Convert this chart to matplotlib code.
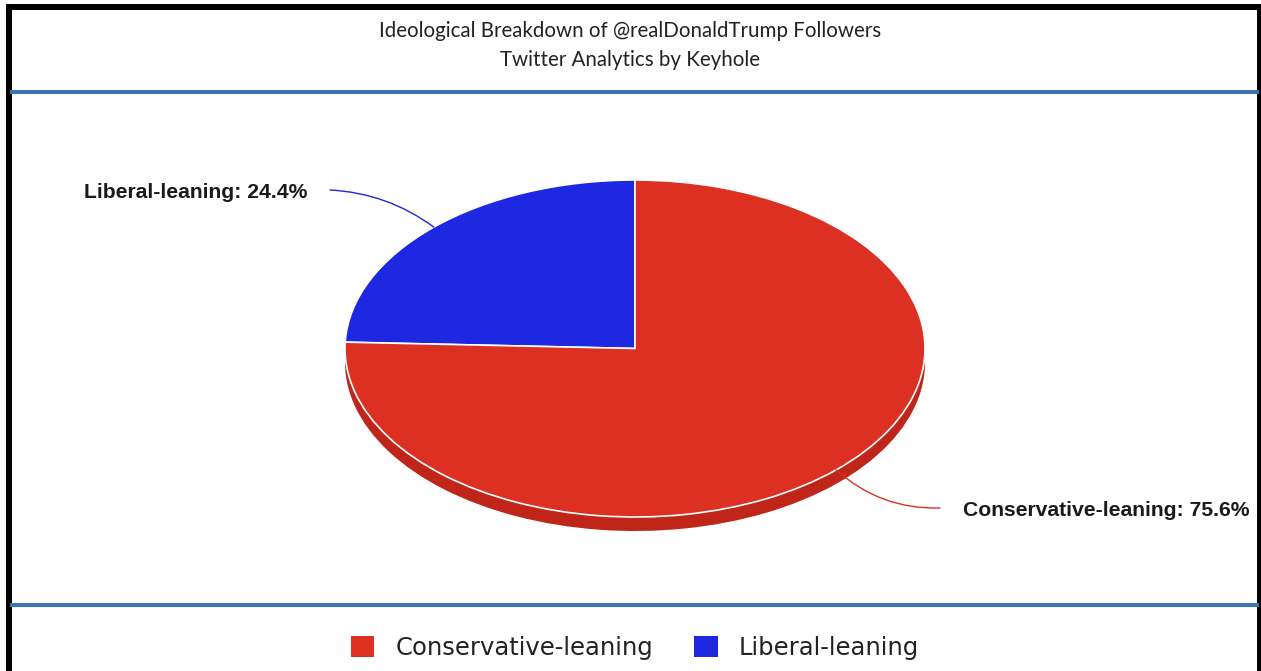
import numpy as np
import matplotlib
matplotlib.use("Agg")
import matplotlib.pyplot as plt
from matplotlib.patches import Rectangle
from matplotlib.lines import Line2D

# ---- data ----
categories = ["Liberal-leaning", "Conservative-leaning"]
values = [24.4, 75.6]
colors = ["#1E28E0", "#DC3122"]
side_colors = ["#1620B8", "#BF2519"]
title_lines = ["Ideological Breakdown of @realDonaldTrump Followers",
               "Twitter Analytics by Keyhole"]
legend_order = ["Conservative-leaning", "Liberal-leaning"]

W, H = 1261, 671
fig = plt.figure(figsize=(W / 100, H / 100), dpi=100)
fig.patch.set_facecolor("white")

def fx(px):
    return px / W

def fy(py):
    return 1 - py / H

# frame
fig.add_artist(Rectangle((fx(6), fy(10)), fx(1261) - fx(6), fy(4) - fy(10),
                         transform=fig.transFigure, color="black", lw=0))
fig.add_artist(Rectangle((fx(6), 0), fx(12) - fx(6), fy(4),
                         transform=fig.transFigure, color="black", lw=0))
fig.add_artist(Rectangle((fx(1257), 0), fx(1261) - fx(1257), fy(4),
                         transform=fig.transFigure, color="black", lw=0))

# separator lines
for yy in (92, 605):
    fig.add_artist(Line2D([fx(12), fx(1257)], [fy(yy), fy(yy)],
                          transform=fig.transFigure, color="#3B74B6", lw=2.9))

# titles
fig.text(0.5, fy(31), title_lines[0], ha="center", va="center",
         fontsize=14.8, family="Lato", color="#222222")
fig.text(0.5, fy(60), title_lines[1], ha="center", va="center",
         fontsize=14.8, family="Lato", color="#222222")

# pie axes: ellipse bounding box (345,180)-(925,517)
left, top, right, bottom = 345, 180, 925, 517
ax = fig.add_axes([fx(left), fy(bottom), fx(right) - fx(left), fy(top) - fy(bottom)])
ry_px = (bottom - top) / 2
depth = 14 / ry_px

# side (depth) layer
ax.pie(values, colors=side_colors, startangle=90, counterclock=True,
       center=(0, -depth), radius=1,
       wedgeprops=dict(edgecolor="none", linewidth=0))
wedges, _ = ax.pie(values, colors=colors, startangle=90, counterclock=True,
                   center=(0, 0), radius=1,
                   wedgeprops=dict(edgecolor="white", linewidth=1.2))
ax.set_aspect("auto")
ax.set_xlim(-1, 1)
ax.set_ylim(-1, 1)
ax.axis("off")
for p in ax.patches:
    p.set_clip_on(False)

# labels with leader lines
cum = np.cumsum([0] + values)
label_specs = {
    "Liberal-leaning": dict(start=(330, 190), text=(307, 193), ha="right", rad=-0.15),
    "Conservative-leaning": dict(start=(940, 508), text=(963, 510), ha="left", rad=-0.2),
}
for i, cat in enumerate(categories):
    mid = 90 + (cum[i] + values[i] / 2) / 100 * 360
    a = np.deg2rad(mid)
    anchor = (np.cos(a), np.sin(a))
    spec = label_specs[cat]
    sx, sy = spec["start"]
    ax.annotate("", xy=anchor, xycoords="data",
                xytext=(sx, H - sy), textcoords="figure pixels",
                arrowprops=dict(arrowstyle="-", color=colors[i], lw=1.0,
                                connectionstyle=f"arc3,rad={spec['rad']}",
                                shrinkA=0, shrinkB=0),
                annotation_clip=False)
    tx, ty = spec["text"]
    fig.text(fx(tx), fy(ty), f"{cat}: {values[i]}%", ha=spec["ha"], va="center",
             fontsize=15.2, family="Liberation Sans", fontweight="bold",
             color="#1a1a1a")

# legend
handles = [wedges[categories.index(c)] for c in legend_order]
leg = fig.legend(handles, legend_order, loc="center",
                 bbox_to_anchor=(fx(635), fy(648)), ncol=2, frameon=False,
                 handlelength=0.95, handleheight=0.95,
                 handletextpad=0.86, columnspacing=1.7,
                 prop=dict(family="DejaVu Sans", size=17.5))
for h in leg.legend_handles:
    h.set_edgecolor("none")
for t in leg.get_texts():
    t.set_color("#222222")

fig.savefig("out.png", dpi=100)
